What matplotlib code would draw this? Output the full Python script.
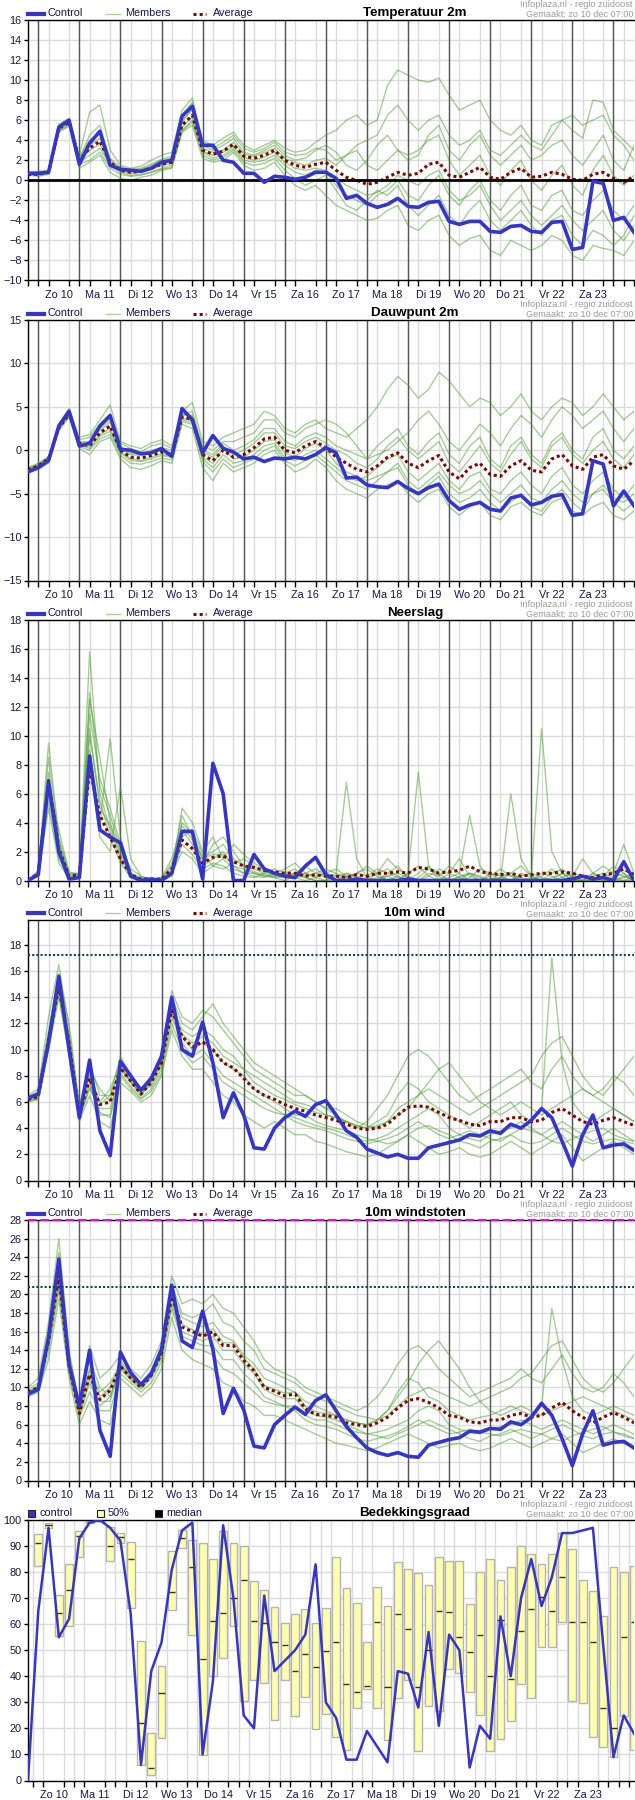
import numpy as np
import matplotlib.pyplot as plt
from matplotlib.lines import Line2D
from matplotlib.patches import Rectangle

plt.rcParams['font.family'] = ['Liberation Sans', 'DejaVu Sans']

W, H = 635, 1800
LABEL = '#14144a'
BLUE = '#3535cc'
GREEN = '#4a9e2e'
RED = '#7a0a00'

days = ["Zo 10", "Ma 11", "Di 12", "Wo 13", "Do 14", "Vr 15", "Za 16",
        "Zo 17", "Ma 18", "Di 19", "Wo 20", "Do 21", "Vr 22", "Za 23"]
# 6-hourly steps, in days since zo 10 00:00 (first one is za 9 18:00)
steps = np.arange(60) * 0.25 - 0.25

# ---- temperatuur 2m ----
temp_control = [0.7,0.7,0.8,5.3,6.0,1.6,3.7,4.9,1.5,1.1, 1.0,0.9,1.2,1.8,2.0,6.4,7.4,3.5,3.5,2.0,
                1.8,0.7,0.7,-0.2,0.4,0.3,0.1,0.3,0.8,0.8, 0.2,-1.8,-1.5,-2.3,-2.7,-2.4,-1.8,-2.6,-2.7,-2.2,
                -2.1,-4.1,-4.4,-4.1,-4.1,-5.1,-5.2,-4.6,-4.5,-5.1, -5.2,-4.2,-4.1,-6.9,-6.7,-0.1,-0.3,-4.0,-3.7,-5.2]
temp_average = [0.6,0.6,0.8,5.2,5.8,2.0,3.2,3.9,1.8,1.0, 0.8,0.9,1.2,1.6,1.8,5.5,6.5,3.0,2.6,2.9,
                3.6,2.4,2.2,2.5,3.0,2.0,1.5,1.3,1.6,1.8, 1.0,0.3,0.0,-0.4,-0.2,0.3,0.8,0.5,0.7,1.6,
                1.8,0.5,0.3,0.8,1.3,0.3,0.1,0.8,1.2,0.3, 0.4,0.8,0.6,0.1,0.0,0.6,0.8,0.2,-0.2,0.4]
temp_members = [
    [0.8,0.9,1.0,5.6,6.2,2.5,6.8,7.5,3.0,1.5, 1.2,1.4,2.0,2.5,2.8,7.0,8.2,4.0,3.5,4.2, 4.8,3.5,3.0,3.5,4.0,3.2,2.8,3.0,3.8,4.5,
     5.0,6.0,6.5,5.5,6.0,9.5,11.0,10.5,10.0,9.8, 10.2,8.5,7.0,7.5,8.0,6.0,5.0,4.5,5.5,4.0, 3.5,5.5,6.0,5.0,4.2,8.0,7.8,5.0,4.0,3.0],
    [0.5,0.4,0.6,4.8,5.4,1.2,1.8,2.5,0.8,0.2, 0.0,0.3,0.5,1.0,1.2,4.8,5.5,2.2,1.8,2.0, 2.8,1.5,1.0,1.2,1.8,0.5,-0.5,-1.0,-0.5,-1.5,
     -2.5,-3.0,-3.5,-4.0,-3.8,-3.0,-2.5,-4.5,-5.0,-4.0, -3.5,-5.5,-6.5,-5.8,-5.5,-7.0,-7.5,-6.0,-6.5,-7.0, -6.5,-5.5,-6.0,-7.5,-8.0,-6.5,-6.8,-7.0,-7.5,-6.0],
    [0.6,0.7,0.9,5.5,6.0,2.2,4.5,5.5,2.0,1.2, 1.0,1.1,1.5,2.0,2.2,6.0,7.0,3.5,3.0,3.5, 4.2,2.8,2.5,3.0,3.5,2.5,2.0,2.2,3.0,3.5,
     2.8,1.5,1.0,2.0,3.5,4.5,3.0,2.0,2.5,4.5, 5.5,3.0,2.0,3.5,4.5,2.5,1.5,2.5,3.5,2.0, 2.5,3.5,4.0,2.5,1.5,3.0,4.5,2.0,1.0,3.5],
    [0.7,0.6,0.7,5.0,5.6,1.8,2.5,3.2,1.5,0.8, 0.5,0.6,0.8,1.2,1.5,5.0,6.0,2.8,2.2,2.5, 3.2,2.0,1.8,2.0,2.5,1.5,0.8,0.5,1.0,0.8,
     -0.5,-1.5,-2.0,-2.5,-1.5,-1.0,0.0,-1.5,-2.0,-0.5, 0.5,-1.5,-2.5,-1.0,0.0,-2.0,-3.0,-1.5,-0.5,-2.5, -3.0,-1.5,-1.0,-3.0,-3.5,-2.0,-1.0,-3.0,-4.0,-2.5],
    [0.6,0.8,0.8,5.3,5.9,2.1,3.5,4.2,1.7,1.0, 0.9,1.0,1.3,1.8,2.0,5.8,7.2,3.2,2.8,3.0, 3.8,2.6,2.4,2.8,3.2,2.2,1.8,1.5,2.0,2.2,
     1.5,2.5,3.5,4.0,4.5,6.5,7.5,6.0,5.0,6.0, 6.5,4.5,3.5,4.0,5.0,3.0,2.5,3.5,4.5,3.5, 3.0,4.5,6.0,6.5,5.5,6.0,6.5,4.5,3.5,2.0],
    [0.5,0.6,0.8,5.1,5.7,1.9,3.0,3.6,1.6,0.9, 0.7,0.8,1.1,1.5,1.7,5.3,6.3,2.9,2.5,2.8, 3.4,2.3,2.0,2.3,2.8,1.8,1.2,1.0,1.2,1.0,
     0.2,-0.5,-1.0,-1.5,-1.2,-0.5,0.5,0.0,-0.5,0.5, 1.0,-1.0,-2.0,-1.5,-0.5,-2.5,-4.0,-3.0,-2.0,-3.5, -4.5,-3.5,-2.5,-4.0,-5.0,-4.0,-3.0,-5.0,-6.0,-4.5],
    [0.7,0.7,0.9,5.4,6.1,2.3,4.0,4.8,2.2,1.3, 1.1,1.2,1.6,2.1,2.4,6.5,7.8,3.8,3.2,3.8, 4.5,3.2,2.8,3.2,3.8,2.8,2.5,2.6,3.2,3.0,
     2.0,2.5,3.0,1.5,1.0,2.0,3.0,2.5,3.0,4.0, 4.5,2.0,0.5,1.5,2.5,0.5,-0.5,1.0,2.0,0.0, -1.0,0.5,1.5,-0.5,-1.5,1.0,2.5,0.5,-0.5,0.5],
    [0.6,0.5,0.7,4.9,5.5,1.6,2.0,2.8,1.2,0.6, 0.4,0.5,0.8,1.1,1.3,4.9,5.8,2.5,2.0,2.3, 3.0,1.8,1.5,1.7,2.2,1.0,0.2,-0.5,0.0,0.5,
     -1.0,-2.5,-3.0,-2.0,-1.0,-1.5,-0.5,-2.5,-3.5,-2.5, -1.5,-3.5,-4.5,-3.0,-2.0,-4.0,-5.0,-4.0,-3.0,-4.5, -5.5,-4.0,-3.5,-5.5,-6.5,-5.0,-5.5,-6.5,-5.5,-3.5],
]

# ---- dauwpunt 2m ----
dew_control = [-2.5,-2.0,-1.2,2.8,4.5,0.5,0.8,2.8,4.0,0.1, 0.0,-0.4,-0.3,0.2,-0.7,4.8,3.5,-0.3,1.7,0.2,
               -0.2,-1.0,-0.8,-1.3,-0.9,-1.0,-0.8,-1.0,-0.5,0.3, -0.3,-3.2,-3.1,-4.0,-4.2,-4.3,-3.6,-4.4,-5.0,-4.3,
               -3.9,-5.8,-6.8,-6.3,-6.0,-6.8,-7.0,-5.5,-5.2,-6.3, -6.0,-5.3,-5.1,-7.5,-7.3,-1.2,-1.6,-6.4,-4.7,-6.4]
dew_average = [-2.3,-1.8,-1.0,2.6,4.2,0.8,0.5,2.0,2.8,0.0, -0.8,-0.9,-0.6,-0.2,-0.5,3.8,3.6,-0.5,-1.2,0.0,
               -0.8,-0.5,0.3,1.3,1.5,0.0,-0.3,0.5,1.0,0.3, -0.8,-1.5,-2.2,-2.5,-1.8,-0.8,-0.3,-1.5,-2.0,-1.2,
               -0.6,-2.5,-3.3,-2.0,-1.5,-2.8,-3.0,-1.8,-1.2,-2.3, -2.5,-1.0,-0.5,-1.8,-2.2,-0.8,-0.5,-1.8,-2.2,-1.2]
dew_members = [
    [-2.0,-1.5,-0.8,3.0,4.8,1.5,1.8,3.5,5.2,1.0, 0.5,0.2,0.8,1.2,0.5,4.5,5.5,1.0,0.5,1.5, 2.0,2.5,3.0,4.5,4.0,2.5,2.0,3.0,3.5,2.5,
     2.0,1.5,2.5,3.5,5.0,7.0,8.5,7.5,6.0,7.0, 9.0,8.0,6.5,5.0,6.0,5.5,4.0,5.0,6.5,4.5, 3.5,5.0,6.0,5.5,4.0,5.0,6.5,5.0,3.5,4.5],
    [-2.5,-2.2,-1.5,2.2,3.8,0.2,-0.5,1.0,1.5,-1.0, -2.0,-2.2,-1.8,-1.2,-1.5,3.0,2.5,-2.0,-3.5,-1.5, -2.5,-2.0,-1.5,-0.5,0.0,-1.5,-2.5,-2.0,-1.0,-2.0,
     -3.5,-4.5,-5.0,-5.5,-4.5,-4.0,-3.5,-5.0,-6.0,-5.0, -4.5,-6.5,-7.5,-6.5,-6.0,-7.5,-8.0,-6.5,-6.0,-7.0, -7.5,-6.0,-5.5,-7.0,-7.5,-6.5,-6.0,-7.5,-8.0,-7.0],
    [-2.2,-1.7,-0.9,2.8,4.5,1.0,1.0,2.5,3.5,0.5, -0.3,-0.5,0.0,0.3,0.0,4.2,4.0,0.0,-0.5,0.8, 0.0,0.5,1.2,2.5,2.5,1.0,0.5,1.5,2.0,1.5,
     0.5,0.0,-0.5,-1.0,0.5,1.5,2.5,0.5,-0.5,1.0, 2.0,-0.5,-1.5,0.5,1.5,-1.0,-2.0,0.5,1.5,-0.5, -1.5,1.0,2.0,0.0,-1.0,1.5,2.5,0.0,-1.0,0.5],
    [-2.4,-1.9,-1.1,2.5,4.0,0.6,0.2,1.6,2.2,-0.3, -1.2,-1.3,-1.0,-0.6,-0.8,3.5,3.2,-1.0,-2.0,-0.5, -1.5,-1.2,-0.5,0.5,0.8,-0.8,-1.2,-0.5,0.0,-1.0,
     -2.0,-3.0,-3.5,-3.0,-2.0,-1.0,-0.5,-2.5,-3.5,-2.5, -1.5,-3.5,-4.5,-3.0,-2.5,-4.5,-5.0,-3.5,-2.5,-4.0, -5.0,-3.0,-2.0,-4.0,-5.0,-3.5,-2.5,-4.5,-5.5,-4.0],
    [-2.1,-1.6,-0.7,2.9,4.6,1.2,1.5,3.0,4.2,0.8, 0.2,-0.2,0.5,0.8,0.2,4.0,4.5,0.5,0.0,1.0, 1.0,1.5,2.0,3.5,3.5,2.0,1.5,2.5,3.0,3.5,
     3.0,2.0,0.5,-1.0,-0.5,0.0,1.0,2.0,3.5,4.5, 3.0,1.0,0.0,1.5,3.0,2.0,0.5,2.5,4.0,3.0, 1.5,3.5,5.0,4.0,2.5,3.5,4.5,2.5,1.0,2.5],
    [-2.3,-1.8,-1.0,2.6,4.1,0.7,0.4,1.8,2.5,-0.2, -1.0,-1.2,-0.8,-0.4,-0.7,3.7,3.4,-0.8,-1.5,0.2, -1.0,-0.8,0.0,1.0,1.2,-0.3,-0.8,0.2,0.8,0.0,
     -1.5,-2.5,-3.0,-3.5,-3.0,-2.5,-1.5,-3.5,-4.5,-3.5, -2.5,-4.0,-5.0,-4.5,-3.5,-5.0,-6.0,-5.0,-4.0,-5.5, -6.0,-4.5,-3.5,-5.0,-6.0,-5.0,-4.0,-5.5,-6.0,-5.0],
    [-2.2,-1.7,-0.9,2.7,4.4,0.9,0.8,2.3,3.2,0.3, -0.5,-0.6,-0.3,0.1,-0.3,4.1,3.9,-0.2,-0.8,0.5, -0.5,0.0,0.8,2.0,2.0,0.5,0.2,1.0,1.5,0.8,
     0.0,-0.5,-1.5,-2.0,-1.0,0.5,1.5,0.0,-1.0,0.0, 1.0,-1.5,-2.5,-1.0,0.5,-1.5,-2.5,-0.5,1.0,-1.0, -2.0,0.5,1.5,-0.5,-1.5,0.0,1.0,-1.0,-2.0,-0.5],
    [-2.4,-1.9,-1.2,2.4,3.9,0.4,0.0,1.3,1.8,-0.6, -1.5,-1.6,-1.3,-0.9,-1.1,3.3,3.0,-1.3,-2.5,-1.0, -2.0,-1.5,-1.0,0.0,0.5,-1.2,-1.8,-1.2,-0.5,-1.5,
     -2.5,-3.5,-4.0,-4.5,-3.5,-2.5,-2.0,-4.0,-5.0,-4.0, -3.0,-5.0,-6.0,-5.5,-4.5,-6.0,-7.0,-6.0,-5.0,-6.5, -7.0,-5.5,-4.5,-6.0,-7.0,-5.0,-4.5,-6.0,-7.0,-6.0],
]

# ---- neerslag ----
rain_control = [0.0,0.4,6.8,2.0,0.1,0.2,8.6,3.5,3.0,2.6, 0.3,0.0,0.1,0.0,0.5,3.4,3.4,0.1,8.1,6.0,
                0.0,0.0,1.8,0.8,0.5,0.3,0.2,1.0,1.6,0.4, 0.0,0.0,0.1,0.0,0.0,0.0,0.0,0.1,0.0,0.0,
                0.0,0.0,0.0,0.0,0.0,0.0,0.0,0.0,0.0,0.0, 0.0,0.0,0.0,0.1,0.3,0.1,0.2,0.0,1.3,0.0]
rain_average = [0.0,0.5,6.9,2.2,0.3,0.4,7.8,4.5,3.0,1.5, 0.4,0.1,0.1,0.1,0.8,2.8,2.2,1.2,1.6,1.7,
                1.3,1.0,0.9,0.7,0.6,0.5,0.5,0.3,0.4,0.3, 0.3,0.2,0.4,0.3,0.5,0.5,0.6,0.5,0.9,0.8,
                0.5,0.6,0.7,1.0,0.6,0.5,0.4,0.5,0.3,0.4, 0.5,0.5,0.6,0.5,0.3,0.2,0.4,0.5,0.8,0.4]
rain_members = [
    [0.0,0.5,9.5,3.0,0.5,0.5,15.8,6.0,3.5,1.5, 0.3,0.1,0.0,0.2,1.0,4.5,3.0,1.5,2.0,2.5, 1.5,1.0,0.8,0.5,0.3,0.5,0.8,0.2,0.0,0.0,
     0.3,0.5,0.2,0.0,0.0,0.5,1.0,0.2,0.0,0.0, 0.0,0.5,1.5,0.3,0.0,0.0,0.2,0.5,0.0,0.0, 0.3,0.8,0.2,0.0,0.0,0.5,0.3,0.0,0.2,0.5],
    [0.0,0.3,5.5,1.5,0.2,0.3,12.5,8.5,4.0,2.0, 0.5,0.2,0.1,0.0,0.5,2.0,1.5,0.5,1.0,1.5, 2.5,1.8,1.2,0.8,0.5,0.3,0.2,0.5,0.8,0.3,
     0.0,0.0,0.5,0.8,0.3,0.0,0.0,0.5,7.5,1.0, 0.0,0.0,0.3,0.5,0.2,0.0,0.0,0.5,1.0,0.3, 0.0,0.0,0.2,0.5,0.3,0.0,0.0,0.2,0.5,0.0],
    [0.0,0.6,7.5,2.5,0.3,0.4,10.0,5.5,3.0,1.2, 0.2,0.0,0.0,0.1,0.8,3.5,2.5,1.0,1.5,2.0, 1.0,0.5,0.3,0.2,0.5,0.8,1.2,0.5,0.2,0.0,
     0.5,6.8,1.5,0.2,0.0,0.3,0.5,0.2,0.0,0.3, 0.8,0.5,0.2,0.0,0.0,0.5,0.3,0.0,0.0,0.2, 10.5,2.0,0.5,0.0,0.0,0.3,0.5,0.2,0.0,0.0],
    [0.0,0.4,6.0,2.0,0.2,0.2,9.0,4.0,9.8,3.0, 0.5,0.1,0.0,0.0,0.6,5.0,4.0,2.0,3.0,1.5, 0.8,0.5,0.5,0.3,0.2,0.0,0.3,0.5,0.3,0.5,
     0.8,0.3,0.0,0.0,0.5,1.5,0.8,0.3,0.0,0.0, 0.0,0.2,0.5,4.5,1.0,0.2,0.0,0.0,0.3,0.5, 0.2,0.0,0.0,0.3,1.5,0.5,0.0,0.0,0.0,0.2],
    [0.0,0.5,8.5,2.8,0.4,0.5,11.5,7.0,5.0,2.5, 0.8,0.3,0.0,0.1,1.2,3.0,3.5,1.8,1.0,0.8, 1.2,1.5,1.0,0.6,0.4,0.5,0.2,0.0,0.2,0.5,
     0.3,0.2,0.5,0.3,0.8,0.5,0.2,0.0,0.0,0.5, 0.3,1.0,0.5,0.0,0.0,0.3,0.8,0.3,0.0,0.0, 0.0,0.5,0.8,0.2,0.0,0.0,0.3,1.0,0.5,0.0],
    [0.0,0.3,5.0,1.2,0.1,0.3,8.0,3.0,2.0,6.5, 1.5,0.3,0.1,0.0,0.3,2.5,1.8,0.8,1.2,1.0, 0.5,0.3,0.2,0.5,0.8,0.5,0.3,0.2,0.0,0.0,
     0.0,0.5,0.3,0.0,0.2,0.3,0.0,0.5,1.0,0.3, 0.0,0.0,0.0,0.5,0.3,0.0,0.2,0.0,0.5,0.2, 0.0,0.0,0.5,0.3,0.0,0.0,0.2,0.0,0.3,0.0],
    [0.0,0.7,6.5,3.5,0.6,0.4,13.0,6.5,4.5,2.2, 0.4,0.0,0.0,0.2,1.5,3.8,2.8,1.2,2.5,3.0, 2.0,1.0,0.6,0.4,0.2,0.3,0.5,1.0,0.5,0.2,
     0.0,0.3,0.5,1.0,0.5,0.0,0.3,0.0,0.2,0.8, 0.5,0.0,0.0,0.2,0.8,0.5,0.0,6.0,1.5,0.3, 0.0,0.2,0.5,0.0,0.0,0.5,1.0,0.5,2.5,0.5],
    [0.0,0.4,7.0,1.8,0.3,0.3,10.5,5.0,3.8,1.8, 0.3,0.1,0.0,0.0,0.4,4.0,3.2,1.5,1.8,1.8, 1.0,0.8,0.5,0.3,0.3,0.2,0.5,0.3,0.5,0.8,
     0.5,0.2,0.0,0.2,0.5,0.8,0.3,0.0,0.5,1.0, 0.3,0.0,0.2,0.5,0.0,0.0,0.5,0.3,0.2,0.0, 0.5,0.3,0.0,0.0,0.3,0.0,0.2,0.5,0.3,0.0],
]

# ---- 10m wind ----
wind_control = [6.3,6.6,10.5,15.6,10.0,4.8,9.2,3.8,1.9,9.1, 8.0,6.9,7.8,9.5,14.0,10.0,9.5,12.1,9.0,4.8,
                6.7,5.0,2.5,2.4,4.0,4.8,5.3,4.9,5.8,6.1, 5.0,3.8,3.3,2.4,2.1,1.8,2.0,1.7,1.7,2.5,
                2.7,2.9,3.1,3.5,3.4,3.8,3.6,4.3,4.0,4.6, 5.5,4.8,3.0,1.1,3.5,5.0,2.5,2.7,2.8,2.3]
wind_average = [6.2,6.4,10.8,14.8,10.5,5.0,7.8,5.8,6.0,8.6, 7.6,6.6,7.5,9.0,13.0,11.0,10.2,10.6,10.0,9.0,
                8.6,7.8,7.0,6.5,6.2,5.8,5.5,5.3,5.0,4.8, 4.6,4.3,4.0,3.9,4.0,4.3,5.0,5.6,5.7,5.6,
                5.2,4.8,4.6,4.3,4.2,4.5,4.5,4.8,4.8,4.5, 4.6,5.2,5.5,5.0,4.5,4.3,4.6,4.8,4.5,4.2]
wind_members = [
    [6.5,7.0,12.5,16.5,11.5,5.5,9.0,6.5,6.5,9.5, 8.0,7.0,8.0,9.5,14.5,12.5,12.0,13.0,12.5,11.5, 10.5,9.5,8.5,8.0,7.5,7.0,6.5,6.5,6.0,5.5,
     5.0,4.5,4.0,4.5,5.5,6.5,8.0,9.5,10.0,9.5, 8.5,7.5,6.5,6.0,6.5,7.0,7.5,8.0,8.5,7.5, 7.0,8.5,9.5,8.0,7.0,6.5,7.0,8.0,7.5,6.5],
    [6.0,6.2,10.0,14.0,9.5,4.5,6.5,4.5,4.0,7.5, 6.8,6.0,6.5,8.0,11.5,9.5,8.5,8.5,7.5,6.5, 6.0,5.0,4.5,4.0,4.5,4.0,3.5,3.5,3.0,2.8,
     2.5,2.2,2.0,1.8,2.0,2.5,3.0,3.5,3.0,2.5, 2.0,2.2,2.5,2.0,1.8,2.0,2.5,3.0,2.5,2.0, 2.5,3.0,3.5,2.5,1.5,2.0,2.5,3.0,2.5,2.0],
    [6.3,6.6,11.0,15.2,11.0,5.2,8.2,6.0,7.0,9.0, 7.8,6.8,7.8,9.2,13.5,11.5,11.0,11.5,11.0,10.0, 9.5,8.5,8.0,7.5,7.0,6.5,6.0,5.8,5.5,5.0,
     4.8,4.5,4.2,4.0,4.5,5.0,6.5,7.5,7.0,6.0, 5.5,5.0,4.5,4.0,4.5,5.0,5.5,6.0,5.0,4.5, 5.5,17.0,9.0,6.0,5.0,4.5,5.0,5.5,5.0,4.5],
    [6.1,6.3,10.5,14.5,10.0,4.8,7.0,5.5,5.5,8.2, 7.2,6.3,7.0,8.5,12.5,10.5,9.5,10.0,9.0,8.0, 7.5,7.0,6.5,6.0,5.5,5.0,4.8,4.5,4.2,4.0,
     3.8,3.5,3.2,3.0,3.2,3.5,4.0,4.5,5.0,5.5, 5.0,4.0,3.5,3.2,3.0,3.5,3.8,4.0,4.5,4.0, 3.5,4.0,4.5,4.0,3.5,3.0,3.5,4.0,3.5,3.0],
    [6.4,6.8,11.5,15.8,12.0,5.8,8.5,7.0,6.0,8.8, 7.5,6.5,7.5,9.0,14.0,12.0,11.5,12.5,13.5,12.0, 11.0,10.0,9.0,8.5,8.0,7.5,7.0,6.5,6.0,5.5,
     5.5,5.0,4.5,4.2,4.0,4.5,5.5,6.0,6.5,7.0, 6.5,6.0,5.5,5.0,5.5,6.0,6.5,7.0,7.5,8.0, 9.5,10.5,11.0,9.5,8.0,7.0,6.5,7.5,8.5,9.5],
    [6.2,6.4,10.8,14.8,10.5,5.0,7.5,5.0,5.0,8.5, 7.5,6.8,7.2,8.8,13.0,11.0,10.0,10.5,10.0,9.0, 8.5,8.0,7.0,6.5,6.0,5.5,5.0,5.0,4.5,4.2,
     4.0,3.8,3.5,3.2,3.0,2.8,3.0,3.5,4.0,4.2, 3.8,3.5,3.0,2.8,2.5,3.0,3.2,3.5,3.0,2.8, 3.0,3.5,4.0,3.5,3.0,2.8,3.0,3.2,3.0,2.8],
    [6.3,6.5,11.2,15.0,10.8,5.3,8.0,5.8,6.5,8.6, 7.6,6.6,7.6,9.0,13.2,11.2,10.5,11.0,10.5,9.5, 9.0,8.5,7.5,7.0,6.5,6.2,5.8,5.5,5.2,5.0,
     4.8,4.5,4.2,4.0,4.2,4.5,5.0,5.5,6.5,7.5, 8.5,9.0,8.0,7.0,6.0,5.5,5.0,5.5,6.0,5.5, 5.0,5.5,6.0,6.5,7.0,6.5,6.0,5.5,5.0,4.5],
    [6.1,6.2,10.2,14.2,9.8,4.6,7.2,5.2,4.8,8.0, 7.0,6.2,6.8,8.2,12.0,10.0,9.0,9.5,8.5,7.5, 7.0,6.5,6.0,5.5,5.2,5.0,4.5,4.2,4.0,3.8,
     3.5,3.2,3.0,2.8,3.0,3.2,3.5,4.0,4.5,4.0, 3.5,3.2,3.5,3.8,3.5,3.2,3.0,3.5,4.0,3.8, 3.5,3.0,2.8,3.2,3.5,3.8,4.0,3.5,3.2,3.0],
]

# ---- 10m windstoten ----
gust_control = [9.3,9.8,15.4,23.8,12.5,8.0,14.0,5.4,2.6,13.8, 11.6,10.3,11.5,14.1,21.0,15.0,14.3,18.2,14.1,7.2,
                9.9,7.6,3.7,3.5,6.0,7.0,7.9,7.1,8.6,9.2, 7.5,5.8,4.6,3.5,3.0,2.7,3.0,2.6,2.5,3.8,
                4.1,4.4,4.6,5.3,5.2,5.6,5.5,6.3,6.0,6.8, 8.3,7.0,4.5,1.6,5.0,7.5,3.8,4.1,4.2,3.5]
gust_average = [9.5,10.0,15.0,22.0,12.3,7.2,11.4,8.7,9.7,12.3, 11.0,10.0,11.3,13.7,19.8,16.5,16.0,15.5,16.0,14.5,
                14.5,12.9,11.8,10.0,9.6,9.1,9.3,7.7,7.1,7.0, 6.8,6.2,6.0,5.8,6.2,6.8,7.8,8.6,8.8,8.4,
                7.8,7.0,6.8,6.3,6.2,6.5,6.5,7.0,7.2,6.8, 7.0,7.8,8.4,7.5,6.8,6.2,6.8,7.3,6.8,6.2]
gust_members = [
    [10.0,11.0,17.0,26.0,14.0,8.0,14.5,11.0,12.0,13.5, 12.0,11.0,12.5,15.0,22.0,19.0,19.5,19.0,20.0,18.5, 18.0,16.5,15.0,13.0,12.0,11.5,11.0,10.0,9.5,9.0,
     8.5,8.0,7.5,8.0,9.0,10.5,12.5,14.0,14.5,13.5, 12.0,11.0,10.0,9.0,9.5,10.0,10.5,11.0,12.0,11.0, 10.5,12.0,13.5,11.5,10.0,9.5,10.0,11.5,10.5,9.0],
    [9.0,9.5,13.0,19.5,11.0,6.0,8.5,6.5,6.0,11.0, 10.0,9.0,10.0,12.0,17.5,14.0,13.0,12.5,12.0,10.5, 10.0,8.5,8.0,7.0,7.0,6.5,6.0,5.5,5.0,4.5,
     4.0,3.8,3.5,3.2,3.5,4.0,4.5,5.0,4.5,4.0, 3.5,3.8,4.0,3.5,3.2,3.5,4.0,4.5,4.0,3.5, 4.0,4.5,5.0,4.0,3.0,3.5,4.0,4.5,4.0,3.5],
    [9.5,10.2,15.5,23.0,13.0,7.5,12.0,9.5,10.5,12.5, 11.2,10.2,11.5,14.0,20.5,17.5,17.0,16.5,17.0,15.5, 15.0,13.5,12.5,11.0,10.5,10.0,9.5,8.5,8.0,7.5,
     7.0,6.5,6.2,6.0,6.5,7.5,9.5,11.0,10.5,9.0, 8.5,7.5,7.0,6.5,6.8,7.0,7.5,8.0,7.5,7.0, 8.0,18.5,13.0,9.0,7.5,7.0,7.5,8.0,7.5,7.0],
    [9.2,9.8,14.5,21.0,12.0,7.0,10.5,8.0,9.0,12.0, 10.8,9.8,11.0,13.2,19.0,15.5,15.0,14.5,14.5,13.0, 13.0,11.5,10.5,9.0,8.5,8.0,8.0,7.0,6.5,6.5,
     6.0,5.5,5.2,5.0,5.2,5.5,6.0,6.5,7.5,8.0, 7.5,6.0,5.5,5.2,5.0,5.5,5.8,6.0,6.5,6.0, 5.5,6.0,6.5,6.0,5.5,5.0,5.5,6.0,5.5,5.0],
    [9.8,10.5,16.0,24.5,13.5,8.2,13.0,10.0,9.0,12.8, 11.5,10.5,11.8,14.5,21.0,18.0,17.5,18.0,19.0,17.0, 16.5,15.0,14.0,12.0,11.5,11.0,10.5,9.5,9.0,8.5,
     8.0,7.5,7.0,6.8,6.5,7.0,8.0,9.0,9.5,10.0, 9.5,9.0,8.5,8.0,8.5,9.0,9.5,10.0,11.0,11.5, 13.0,14.5,15.0,13.0,11.0,10.0,9.5,10.5,12.0,13.5],
    [9.3,9.9,14.8,21.5,12.5,7.2,11.0,8.5,8.5,12.2, 11.0,10.0,11.2,13.5,19.5,16.0,15.5,15.0,15.5,14.0, 14.0,12.5,11.5,9.8,9.2,8.8,8.8,7.5,7.0,6.8,
     6.5,6.0,5.5,5.0,4.8,4.5,5.0,5.5,6.0,6.5, 6.0,5.5,5.0,4.5,4.2,4.8,5.0,5.5,5.0,4.5, 5.0,5.5,6.0,5.5,4.8,4.5,5.0,5.2,5.0,4.5],
    [9.6,10.1,15.2,22.5,12.8,7.6,11.8,9.0,10.0,12.5, 11.1,10.1,11.4,13.9,20.0,16.8,16.2,15.8,16.3,14.8, 14.8,13.2,12.0,10.2,9.8,9.4,9.5,8.0,7.4,7.2,
     7.0,6.5,6.2,6.0,6.5,7.5,9.0,10.5,12.5,14.0, 15.0,13.5,12.0,10.0,8.5,7.5,7.0,7.5,8.0,7.5, 7.0,7.5,8.0,8.5,9.0,8.5,8.0,7.5,7.0,6.5],
    [9.1,9.6,13.8,20.5,11.5,6.8,9.5,7.5,7.5,11.5, 10.5,9.5,10.5,12.8,18.5,15.0,14.2,14.0,13.5,12.0, 11.5,10.5,9.5,8.5,8.2,8.0,7.5,6.5,6.0,5.8,
     5.5,5.0,4.5,4.2,4.5,4.8,5.2,5.8,6.5,6.0, 5.5,5.0,5.2,5.5,5.2,5.0,4.8,5.2,5.5,5.2, 5.0,4.5,4.2,4.8,5.2,5.5,5.8,5.2,4.8,4.5],
]

# ---- bedekkingsgraad (%), boxes from zo 10 00:00 onward ----
cloud_control = [0,65,97,55,62,93,99,100,97,92, 64,6,42,53,81,96,99,10,38,98,
                 70,25,20,71,42,46,50,56,83,30, 24,8,8,19,13,7,42,41,28,57,
                 21,56,50,5,21,16,63,40,70,85, 67,78,95,95,96,97,52,9,25,18]
cloud_q75 = [94.7,99.0,71.2,83.0,95.8,99.9,100,97.3,95.1,91.6, 53.7,18.4,44.0,88.2,96.1,92.2,91.3,85.0,95.8,91.3,
             90.0,76.6,73.1,66.6,60.3,63.8,65.8,60.4,66.2,85.9, 73.8,68.1,53.1,74.3,66.8,83.9,81.2,79.7,75.1,85.9,
             84.1,84.4,67.9,80.1,85.1,77.1,82.0,90.0,87.0,83.2, 87.0,95.1,88.9,77.1,72.9,63.0,82.0,79.9,82.3]
cloud_q25 = [82.4,97.0,55.5,59.4,85.9,99.0,99.5,84.4,91.0,66.2, 6.1,2.3,16.5,65.6,89.3,55.9,9.6,40.1,46.9,59.4,
             30.5,38.6,37.3,23.1,38.6,24.9,31.9,19.9,25.7,16.7, 11.8,28.0,35.0,28.0,15.7,31.5,38.6,11.2,28.5,26.8,
             42.7,41.1,34.1,25.0,11.2,16.1,22.8,37.0,31.5,51.2, 51.2,61.0,30.6,29.6,16.7,12.9,9.0,24.7,11.6]
cloud_median = [91.0,98.1,64.3,73.3,93.8,99.4,99.8,90.0,93.6,85.1, 21.9,4.9,33.4,72.4,93.2,82.0,46.5,61.2,64.3,70.0,
                77.0,61.2,60.5,53.1,52.0,42.0,48.5,43.4,49.8,53.1, 36.9,33.8,36.1,60.8,36.0,64.0,58.0,36.0,50.0,65.0,
                64.5,55.0,49.5,56.0,40.0,61.5,39.0,57.5,66.0,70.5, 65.0,78.0,61.0,61.0,53.0,28.0,20.0,55.0,61.0]

fig = plt.figure(figsize=(W / 100, H / 100), dpi=100)


def fx(px):
    return px / W


def fy(py):
    return 1 - py / H


def header(k, title):
    y0 = 300 * k
    fig.text(fx(633), fy(y0 + 4.5), 'Infoplaza.nl - regio zuidoost', ha='right', va='center',
             fontsize=6.6, color='#9a9a9a')
    fig.text(fx(633), fy(y0 + 14.5), 'Gemaakt: zo 10 dec 07:00', ha='right', va='center',
             fontsize=6.6, color='#9a9a9a')
    fig.text(fx(415), fy(y0 + 13), title, ha='center', va='center', fontsize=9.6,
             fontweight='bold', color='black')


def ens_legend(k):
    y = fy(300 * k + 13.5)
    fig.add_artist(Line2D([fx(28), fx(44)], [y, y], color=BLUE, lw=3))
    fig.text(fx(47), y, 'Control', va='center', fontsize=7.8, color=LABEL)
    fig.add_artist(Line2D([fx(106), fx(120)], [y, y], color='#a8d498', lw=1))
    fig.text(fx(125), y, 'Members', va='center', fontsize=7.8, color=LABEL)
    fig.add_artist(Line2D([fx(193), fx(206)], [y, y], color=RED, lw=2.2, ls=(0, (1, 1))))
    fig.text(fx(213), y, 'Average', va='center', fontsize=7.8, color=LABEL)


def make_axes(k, ylim, yticks, cloud=False):
    top = 20 + 300 * k
    ax = fig.add_axes([fx(28), fy(top + 260.5), 606 / W, 260.5 / H])
    ax.set_xlim(-0.25, 14.5)
    ax.set_ylim(*ylim)
    ax.set_yticks(yticks)
    for s in ['left', 'top', 'bottom']:
        ax.spines[s].set_color('black')
        ax.spines[s].set_linewidth(1)
    ax.spines['right'].set_visible(False)
    off = 0.375 if cloud else 0.5
    ax.set_xticks([d + off for d in range(14)])
    ax.set_xticklabels(days)
    start = -0.125 if cloud else -0.25
    ax.set_xticks(np.arange(start, 14.51, 0.25), minor=True)
    ax.tick_params(axis='x', which='major', length=0, pad=7, labelsize=7.8, labelcolor=LABEL)
    ax.tick_params(axis='x', which='minor', length=4, width=1, color='black')
    ax.tick_params(axis='y', length=3, width=1, pad=1.5, labelsize=7.8, labelcolor=LABEL)
    ax.grid(axis='y', color='#dcdcdc', lw=1)
    ax.grid(axis='x', which='minor', color='#dcdcdc', lw=1)
    ax.set_axisbelow(True)
    return ax


def ensemble(k, title, control, average, members, ylim, yticks):
    header(k, title)
    ens_legend(k)
    ax = make_axes(k, ylim, yticks)
    for d in range(15):
        ax.axvline(d, color='#555555', lw=1, zorder=1)
    for m in members:
        ax.plot(steps, m, color=GREEN, lw=1, alpha=0.5, zorder=2)
    ax.plot(steps, average, color=RED, lw=2.2, ls=(0, (1, 1)), zorder=3)
    ax.plot(steps, control, color=BLUE, lw=2.6, zorder=4)
    return ax


ax = ensemble(0, 'Temperatuur 2m', temp_control, temp_average, temp_members,
              (-10, 16), np.arange(-10, 17, 2))
ax.axhline(0, color='black', lw=2, zorder=3)

ensemble(1, 'Dauwpunt 2m', dew_control, dew_average, dew_members,
         (-15, 15), np.arange(-15, 16, 5))

ensemble(2, 'Neerslag', rain_control, rain_average, rain_members,
         (0, 18), np.arange(0, 19, 2))

ax = ensemble(3, '10m wind', wind_control, wind_average, wind_members,
              (0, 19.9), np.arange(0, 19, 2))
ax.axhline(17.2, color='#0d4556', lw=1.5, ls=(0, (1, 1)), zorder=5)

ax = ensemble(4, '10m windstoten', gust_control, gust_average, gust_members,
              (0, 28), np.arange(0, 29, 2))
ax.axhline(20.8, color='#0d4556', lw=1.5, ls=(0, (1, 1)), zorder=5)
ax.axhline(28, color='#e010e0', lw=1.5, ls=(0, (4, 2)), zorder=6, clip_on=False)

# ---- cloud cover panel ----
header(5, 'Bedekkingsgraad')
yl = fy(1500 + 13.5)
for px, fc, txt in [(28, BLUE, 'control'), (97, '#ffffb0', '50%'), (155, 'black', 'median')]:
    fig.add_artist(Rectangle((fx(px), yl - 3.5 / H), 7 / W, 7 / H, transform=fig.transFigure,
                             facecolor=fc, edgecolor='#222222', lw=0.8))
    fig.text(fx(px + 11), yl, txt, va='center', fontsize=7.8, color=LABEL)

ax = make_axes(5, (0, 100), np.arange(0, 101, 10), cloud=True)
box_t = steps[1:]
q25 = np.array(cloud_q25)
q75 = np.array(cloud_q75)
ax.bar(box_t, q75 - q25, bottom=q25, width=0.19, color='#ffffb0', edgecolor='#b4b4b4',
       lw=1, zorder=2)
ax.hlines(cloud_median, box_t - 0.075, box_t + 0.075, color='#333311', lw=1, zorder=3)
ax.plot(steps, cloud_control, color=BLUE, lw=1.8, zorder=4)

fig.savefig('out.png', dpi=100)
